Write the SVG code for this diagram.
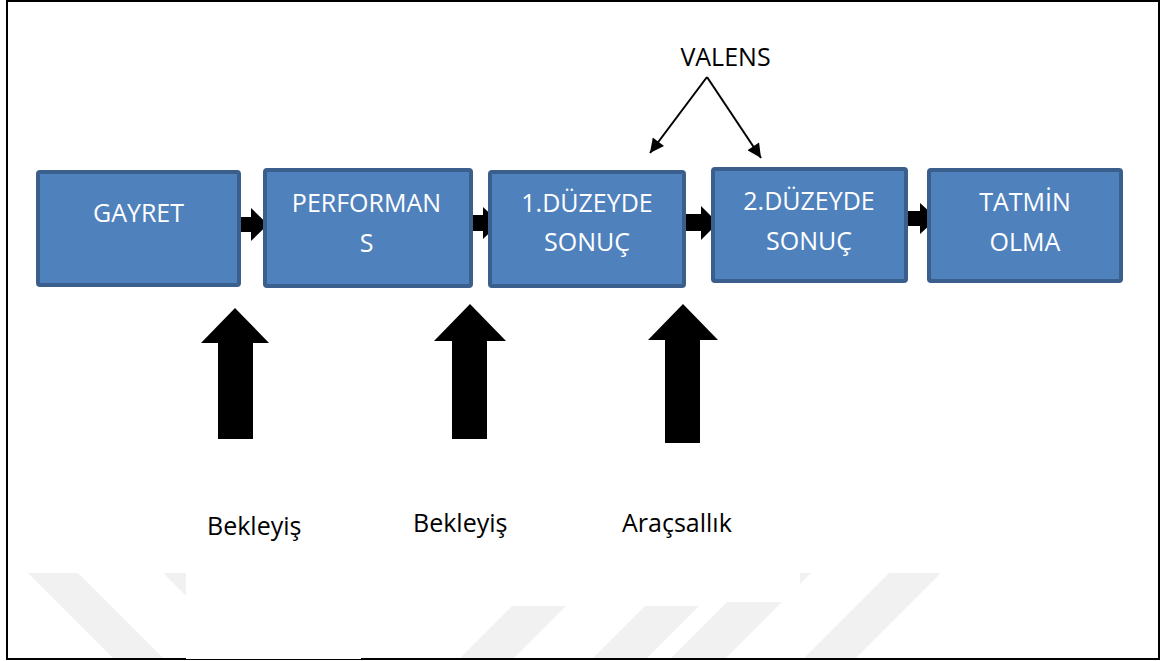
<svg xmlns="http://www.w3.org/2000/svg" width="1160" height="661" viewBox="0 0 1160 661">
<style>
.box{fill:#4f81bd;stroke:#3a5f8d;stroke-width:4}
.bt{font-family:"Open Sans","Liberation Sans",sans-serif;font-size:25px;fill:#ffffff;text-anchor:middle}
.lt{font-family:"Open Sans","Liberation Sans",sans-serif;font-size:25px;fill:#000000}
.blk{fill:#000000}
.wm{fill:#f1f1f1}
.ln{stroke:#000000;stroke-width:2;fill:none}
</style>
<defs>
<marker id="ah" viewBox="0 0 10 10" refX="10" refY="5" markerWidth="8" markerHeight="7" orient="auto" markerUnits="strokeWidth">
<path d="M0,0 L10,5 L0,10 z" fill="#000000"/>
</marker>
</defs>
<rect x="0" y="0" width="1160" height="661" fill="#ffffff"/>
<g id="watermark">
<polygon class="wm" points="28,573 78,573 163,658 113,658"/>
<polygon class="wm" points="163,573 213,573 298,658 248,658"/>
<polygon class="wm" points="512,606 566,606 514,658 460,658"/>
<polygon class="wm" points="645,606 699,606 647,658 593,658"/>
<polygon class="wm" points="756,573 811,573 726,658 671,658"/>
<polygon class="wm" points="889,573 941,573 856,658 804,658"/>
<rect x="607" y="573" width="193" height="29" fill="#ffffff"/>
</g>
<rect x="7" y="1" width="1152" height="658" fill="none" stroke="#000000" stroke-width="2"/>
<rect x="186" y="569" width="175" height="90" fill="#ffffff"/>
<g id="connectors">
<polygon class="blk" points="236,217 251,217 251,208 268,224.5 251,241 251,232 236,232"/>
<polygon class="blk" points="470,215 483,215 483,207 500,223 483,239 483,231 470,231"/>
<polygon class="blk" points="682,214 701,214 701,206 718,223 701,240 701,231 682,231"/>
<polygon class="blk" points="903,211 920,211 920,203 937,218.5 920,234 920,226 903,226"/>
<polygon class="blk" points="235,308 269,343 253,343 253,439 218,439 218,343 201,343"/>
<polygon class="blk" points="470,304 506,341 487,341 487,439 452,439 452,341 434,341"/>
<polygon class="blk" points="683,304 718,340 700,340 700,443 665,443 665,340 648,340"/>
<line class="ln" x1="707" y1="77" x2="650" y2="153" marker-end="url(#ah)"/>
<line class="ln" x1="707" y1="77" x2="761" y2="158" marker-end="url(#ah)"/>
</g>
<g id="gayret">
<rect class="box" x="38" y="172" width="201" height="113" rx="2"/>
<text class="bt" x="138.5" y="222">GAYRET</text>
</g>
<g id="performans">
<rect class="box" x="265" y="170" width="206" height="116" rx="2"/>
<text class="bt" x="366.5" y="212">PERFORMAN</text>
<text class="bt" x="366.5" y="252">S</text>
</g>
<g id="duzey1">
<rect class="box" x="490" y="172" width="194" height="114" rx="2"/>
<text class="bt" x="587" y="212">1.DÜZEYDE</text>
<text class="bt" x="587" y="251">SONUÇ</text>
</g>
<g id="duzey2">
<rect class="box" x="713" y="169" width="193" height="112" rx="2"/>
<text class="bt" x="809" y="210">2.DÜZEYDE</text>
<text class="bt" x="809" y="250">SONUÇ</text>
</g>
<g id="tatmin">
<rect class="box" x="929" y="170" width="192" height="111" rx="2"/>
<text class="bt" x="1025" y="211">TATMİN</text>
<text class="bt" x="1025" y="251">OLMA</text>
</g>
<g id="valens">
<text class="lt" x="725.5" y="66" text-anchor="middle">VALENS</text>
</g>
<g id="bekleyis1">
<text class="lt" x="207" y="535">Bekleyiş</text>
</g>
<g id="bekleyis2">
<text class="lt" x="413" y="532">Bekleyiş</text>
</g>
<g id="aracsallik">
<text class="lt" x="622" y="532">Araçsallık</text>
</g>
</svg>
